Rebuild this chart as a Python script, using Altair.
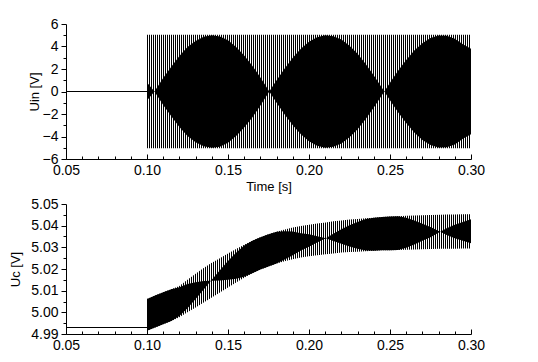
import altair as alt
import pandas as pd

# ---------------- data ----------------
# top panel: input voltage Uin [V]
uin_pre_t = [0.05, 0.10]
uin_pre_v = [0.0, 0.0]
uin_band_t = [0.10, 0.30]
uin_band_hi = [5.05, 5.05]
uin_band_lo = [-5.05, -5.05]
uin_env_t = [0.100, 0.1046, 0.110, 0.115, 0.120, 0.125, 0.130, 0.135, 0.140, 0.145,
             0.150, 0.155, 0.160, 0.165, 0.170, 0.1755, 0.180, 0.185, 0.190, 0.195,
             0.200, 0.205, 0.210, 0.215, 0.220, 0.225, 0.230, 0.235, 0.240, 0.2465,
             0.250, 0.255, 0.260, 0.265, 0.270, 0.275, 0.280, 0.285, 0.290, 0.295,
             0.300]
uin_env = [0.8, 0.0, 1.2, 2.2, 3.15, 3.95, 4.5, 4.87, 5.0, 4.9,
           4.55, 3.95, 3.2, 2.3, 1.25, 0.0, 1.0, 2.05, 3.0, 3.8,
           4.42, 4.82, 5.0, 4.92, 4.62, 4.07, 3.35, 2.45, 1.42, 0.0,
           0.77, 1.84, 2.8, 3.65, 4.3, 4.76, 4.98, 4.96, 4.7, 4.2,
           3.8]

# bottom panel: capacitor voltage Uc [V]
uc_pre_t = [0.05, 0.10]
uc_pre_v = [4.993, 4.993]
uc_t = [0.100, 0.105, 0.110, 0.115, 0.120, 0.125, 0.130, 0.135, 0.1395, 0.145,
        0.150, 0.155, 0.160, 0.165, 0.170, 0.175, 0.180, 0.185, 0.190, 0.195,
        0.200, 0.205, 0.2104, 0.215, 0.220, 0.225, 0.230, 0.235, 0.240, 0.245,
        0.250, 0.255, 0.260, 0.265, 0.270, 0.275, 0.281, 0.285, 0.290, 0.295,
        0.300]
uc_hi = [5.0062, 5.0078, 5.0093, 5.0107, 5.0122, 5.0150, 5.0178, 5.0205, 5.0226, 5.0250,
         5.0272, 5.0292, 5.0312, 5.0330, 5.0346, 5.0360, 5.0372, 5.0382, 5.0391, 5.0398,
         5.0404, 5.0410, 5.0415, 5.0420, 5.0424, 5.0428, 5.0431, 5.0434, 5.0437, 5.0440,
         5.0442, 5.0444, 5.0446, 5.0447, 5.0448, 5.0449, 5.0450, 5.0451, 5.0452, 5.0453,
         5.0453]
uc_lo = [4.9915, 4.9930, 4.9945, 4.9960, 4.9977, 5.0000, 5.0022, 5.0045, 5.0066, 5.0092,
         5.0115, 5.0138, 5.0160, 5.0180, 5.0198, 5.0212, 5.0225, 5.0236, 5.0245, 5.0253,
         5.0259, 5.0264, 5.0268, 5.0272, 5.0276, 5.0278, 5.0280, 5.0282, 5.0284, 5.0286,
         5.0287, 5.0288, 5.0289, 5.0290, 5.0291, 5.0292, 5.0293, 5.0294, 5.0294, 5.0295,
         5.0295]
# fraction of the ripple band that appears solid black
uc_solid = [1.0, 1.0, 1.0, 1.0, 0.92, 0.75, 0.5, 0.25, 0.0, 0.3,
            0.55, 0.78, 0.95, 1.0, 1.0, 1.0, 1.0, 0.9, 0.75, 0.55,
            0.4, 0.2, 0.0, 0.22, 0.45, 0.65, 0.82, 0.95, 1.0, 1.0,
            1.0, 1.0, 0.88, 0.7, 0.5, 0.3, 0.0, 0.2, 0.4, 0.55,
            0.7]

x_major = [0.05, 0.10, 0.15, 0.20, 0.25, 0.30]
x_ticks = [round(0.05 + 0.01 * i, 2) for i in range(26)]
uin_ticks = list(range(-6, 7))
uc_ticks = [round(4.99 + 0.005 * i, 3) for i in range(13)]

# ---------------- tables ----------------
uin_pre = pd.DataFrame({"t": uin_pre_t, "y": uin_pre_v})
uin_band = pd.DataFrame({"t": uin_band_t, "y": uin_band_hi, "y2": uin_band_lo})
uin_env_df = pd.DataFrame({"t": uin_env_t, "y": uin_env})
uin_env_df["y2"] = -uin_env_df["y"]

uc_pre = pd.DataFrame({"t": uc_pre_t, "y": uc_pre_v})
uc_band = pd.DataFrame({"t": uc_t, "y": uc_hi, "y2": uc_lo})
mid = (uc_band["y"] + uc_band["y2"]) / 2
half = (uc_band["y"] - uc_band["y2"]) / 2
uc_env_df = pd.DataFrame({"t": uc_t, "y": mid + half * pd.Series(uc_solid),
                          "y2": mid - half * pd.Series(uc_solid)})

# ---------------- style ----------------
W, H1, H2 = 405, 135, 130
N_STRIPES = 162
FONT = "Liberation Sans"


def stripes(n):
    stops = []
    for i in range(n):
        a, b, c = i / n, (i + 0.5) / n, (i + 1) / n
        stops += [alt.GradientStop(color="black", offset=a),
                  alt.GradientStop(color="black", offset=b),
                  alt.GradientStop(color="white", offset=b),
                  alt.GradientStop(color="white", offset=c)]
    return alt.LinearGradient(gradient="linear", stops=stops, x1=0, x2=1, y1=0, y2=0)


xscale = alt.Scale(domain=[0.05, 0.30], nice=False, zero=False)


def x_label_axis(title):
    return alt.Axis(orient="bottom", values=x_major, format=".2f", ticks=False,
                    labelFlush=False, labelPadding=4, grid=False, titlePadding=3,
                    title=title or "")


def x_tick_axis(h):
    return alt.Axis(orient="top", offset=-h, values=x_ticks, labels=False, domain=False,
                    grid=False, title="",
                    tickSize={"condition": {"test": "round(datum.value*100) % 5 === 0",
                                            "value": 5}, "value": 3})


def panel(pre, band, env, h, ydomain, yticks, ytitle, ytitle_x, ytest, yfmt, xtitle):
    yscale = alt.Scale(domain=ydomain, nice=False, zero=False)
    yaxis = alt.Axis(values=yticks, grid=False, title=ytitle, titleX=ytitle_x,
                     labelFlush=False,
                     labelExpr=f"({ytest}) ? format(datum.value, '{yfmt}') : ''",
                     labelPadding=3,
                     tickSize={"condition": {"test": ytest, "value": 5}, "value": 3})
    y = alt.Y("y:Q", scale=yscale, axis=yaxis, title=ytitle)
    l_pre = alt.Chart(pre).mark_line(color="black", strokeWidth=1).encode(
        x=alt.X("t:Q", scale=xscale, axis=x_label_axis(xtitle)), y=y)
    l_band = alt.Chart(band).mark_area(color=stripes(N_STRIPES)).encode(
        x=alt.X("t:Q", scale=xscale, axis=x_tick_axis(h)), y=y, y2="y2:Q")
    l_env = alt.Chart(env).mark_area(color="black").encode(
        x=alt.X("t:Q", scale=xscale, axis=None), y=y, y2="y2:Q")
    return alt.layer(l_pre, l_band, l_env).resolve_axis(x="independent").properties(
        width=W, height=h)


top = panel(uin_pre, uin_band, uin_env_df, H1, [-6, 6], uin_ticks, "Uin [V]", -25,
            "round(datum.value) % 2 === 0", "d", "Time [s]")
bottom = panel(uc_pre, uc_band, uc_env_df, H2, [4.99, 5.05], uc_ticks, "Uc [V]", -44,
               "round(datum.value*1000) % 10 === 0", ".2f", None)

chart = alt.vconcat(top, bottom, spacing=45, bounds="flush").properties(
    padding={"left": 0, "top": 9, "right": 5, "bottom": 2}
).configure_view(strokeWidth=0).configure_axis(
    labelFont=FONT, labelFontSize=14, labelColor="black",
    titleFont=FONT, titleFontSize=13, titleFontWeight="normal", titleColor="black",
    domainColor="black", tickColor="black", domainWidth=1, tickWidth=1,
)

chart.save("out.html", embed_options={"renderer": "svg", "actions": False})
